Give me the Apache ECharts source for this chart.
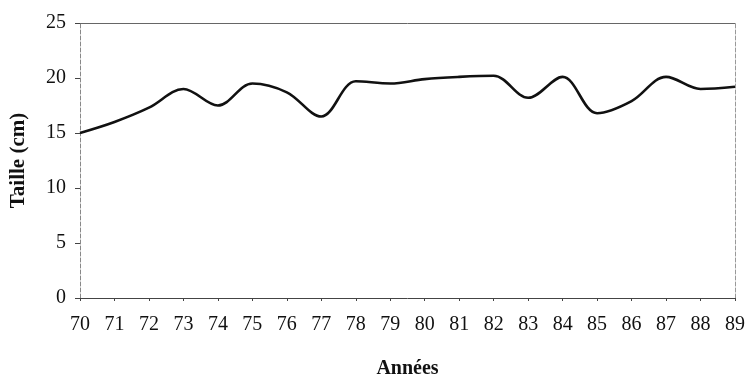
<!DOCTYPE html>
<html><head><meta charset="utf-8">
<script src="https://cdn.jsdelivr.net/npm/echarts@6/dist/echarts.min.js"></script>
<style>html,body{margin:0;padding:0;background:#fff}#c{width:748px;height:384px}</style>
</head><body><div id="c"></div>
<script>
const years = ['70','71','72','73','74','75','76','77','78','79','80','81','82','83','84','85','86','87','88','89'];
const taille = [15.0,16.0,17.3,19.0,17.5,19.5,18.7,16.5,19.7,19.5,19.9,20.1,20.2,18.2,20.1,16.8,17.9,20.1,19.0,19.2];
const yTicks = [0,5,10,15,20,25];

const font = 'Liberation Serif';
const chart = echarts.init(document.getElementById('c'));
chart.setOption({
  backgroundColor:'#fff',
  animation:false,
  grid:{left:77,right:11,top:23,bottom:80},
  xAxis:[{
    type:'category', data:years, boundaryGap:false,
    name:'Années', nameLocation:'middle', nameGap:61,
    nameTextStyle:{fontFamily:font,fontWeight:'bold',fontSize:20,color:'#111'},
    axisLine:{lineStyle:{color:'#444',width:1}},
    axisTick:{show:true,length:3,lineStyle:{color:'#444'}},
    axisLabel:{fontFamily:font,fontSize:20,color:'#111',margin:17},
    splitLine:{show:false}
  },{
    type:'category', data:years, boundaryGap:false, position:'top',
    axisLine:{show:true,onZero:false,lineStyle:{color:'#666',width:1}},
    axisTick:{show:false}, axisLabel:{show:false}, splitLine:{show:false}
  }],
  yAxis:[{
    type:'value', min:yTicks[0], max:yTicks[yTicks.length-1], interval:5,
    name:'Taille (cm)', nameLocation:'middle', nameGap:51,
    nameTextStyle:{fontFamily:font,fontWeight:'bold',fontSize:21,color:'#111'},
    axisLine:{show:true,lineStyle:{color:'#888',width:1,type:'dashed'}},
    axisTick:{show:true,length:5,lineStyle:{color:'#444'}},
    axisLabel:{fontFamily:font,fontSize:20,color:'#111',margin:14},
    splitLine:{show:false}
  },{
    type:'value', min:yTicks[0], max:yTicks[yTicks.length-1], interval:5, position:'right',
    axisLine:{show:true,onZero:false,lineStyle:{color:'#999',width:1,type:'dashed'}},
    axisTick:{show:false}, axisLabel:{show:false}, splitLine:{show:false}
  }],
  series:[{
    type:'line', data:taille, smooth:0.35, showSymbol:false,
    xAxisIndex:0, yAxisIndex:0,
    lineStyle:{color:'#111',width:2.6}
  }]
});
</script></body></html>
